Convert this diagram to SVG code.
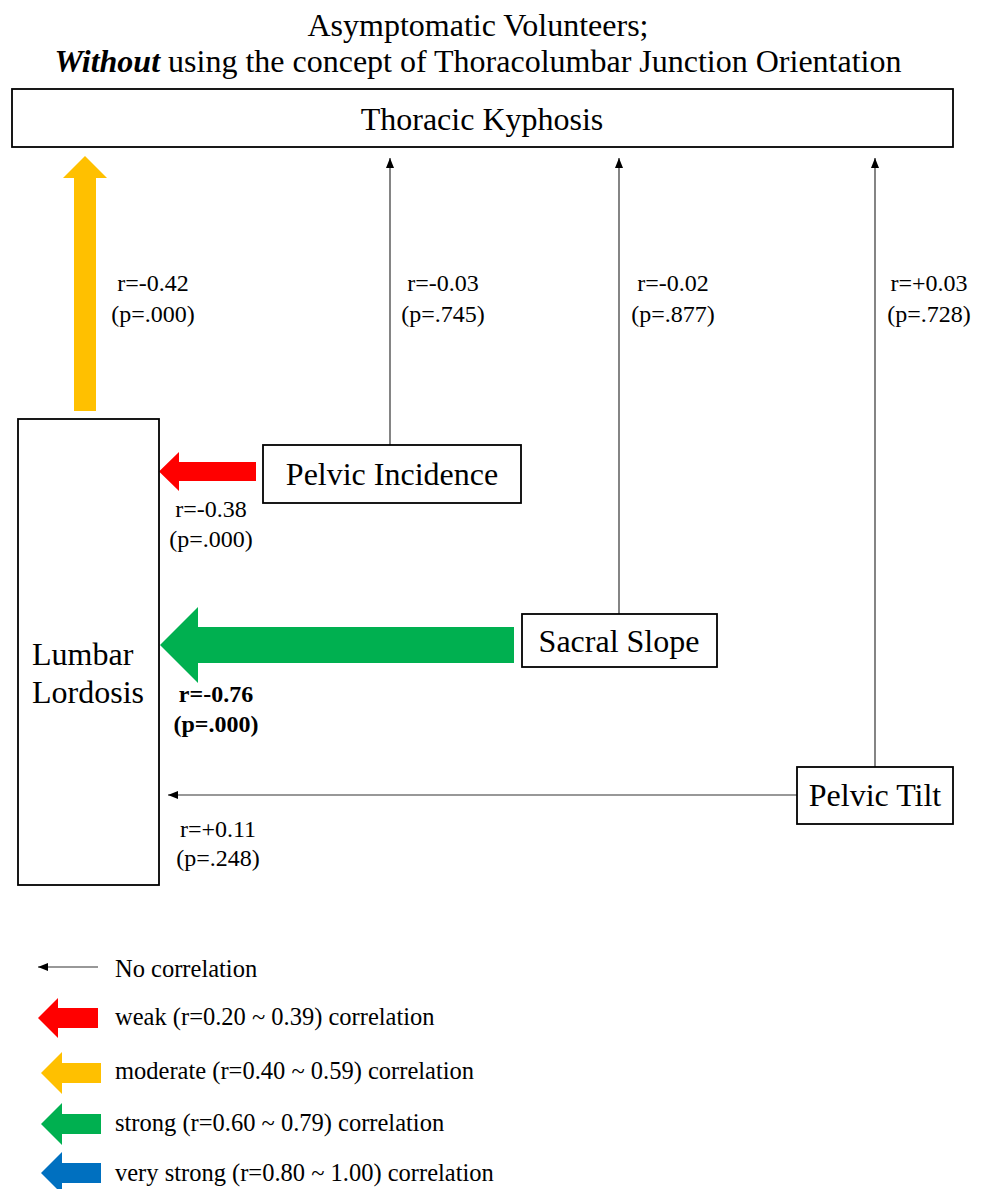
<svg xmlns="http://www.w3.org/2000/svg" width="989" height="1189" viewBox="0 0 989 1189">
<style>
text{font-family:"Liberation Serif","Times New Roman",serif;fill:#000}
.title{font-size:32px}
.node{font-size:32px}
.lbl{font-size:24px;text-anchor:middle}
.bold{font-weight:bold}
.leg{font-size:24.5px}
.box{fill:#fff;stroke:#000;stroke-width:1.8}
.thin{stroke:#333;stroke-width:1.2;fill:none;marker-end:url(#ah)}
</style>
<defs>
<marker id="ah" markerUnits="userSpaceOnUse" markerWidth="10" markerHeight="8" refX="10" refY="4" orient="auto">
<path d="M0,0 L10,4 L0,8 z" fill="#000"/>
</marker>
</defs>
<rect width="989" height="1189" fill="#fff"/>
<g id="title">
<text class="title" x="478" y="36" text-anchor="middle">Asymptomatic Volunteers;</text>
<text class="title" x="478" y="72" text-anchor="middle"><tspan font-weight="bold" font-style="italic">Without</tspan> using the concept of Thoracolumbar Junction Orientation</text>
</g>
<g id="connectors">
<polygon points="74,411 96,411 96,178 107,178 85,156 63,178 74,178" fill="#FFC000"/>
<polygon points="256,462 179,462 179,452 159,471.5 179,491 179,481 256,481" fill="#FF0000"/>
<polygon points="514,627 198,627 198,607 160,645 198,683 198,663 514,663" fill="#00B050"/>
<line class="thin" x1="390" y1="445" x2="390" y2="158"/>
<line class="thin" x1="619" y1="614" x2="619" y2="158"/>
<line class="thin" x1="875" y1="767" x2="875" y2="158"/>
<line class="thin" x1="797" y1="795" x2="168" y2="795"/>
<text class="lbl" x="153" y="291">r=-0.42</text>
<text class="lbl" x="153" y="322">(p=.000)</text>
<text class="lbl" x="443" y="291">r=-0.03</text>
<text class="lbl" x="443" y="322">(p=.745)</text>
<text class="lbl" x="673" y="291">r=-0.02</text>
<text class="lbl" x="673" y="322">(p=.877)</text>
<text class="lbl" x="929" y="291">r=+0.03</text>
<text class="lbl" x="929" y="322">(p=.728)</text>
<text class="lbl" x="211" y="517">r=-0.38</text>
<text class="lbl" x="211" y="547">(p=.000)</text>
<text class="lbl bold" x="216" y="702">r=-0.76</text>
<text class="lbl bold" x="216" y="732">(p=.000)</text>
<text class="lbl" x="218" y="837">r=+0.11</text>
<text class="lbl" x="218" y="866">(p=.248)</text>
</g>
<g id="thoracic-kyphosis">
<rect class="box" x="12" y="89" width="941" height="58" stroke-width="2.2"/>
<text class="node" x="482" y="130" text-anchor="middle">Thoracic Kyphosis</text>
</g>
<g id="lumbar-lordosis">
<rect class="box" x="18" y="419" width="141" height="466"/>
<text class="node" x="32" y="665">Lumbar</text>
<text class="node" x="32" y="703">Lordosis</text>
</g>
<g id="pelvic-incidence">
<rect class="box" x="263" y="445" width="258" height="58"/>
<text class="node" x="392" y="485" text-anchor="middle">Pelvic Incidence</text>
</g>
<g id="sacral-slope">
<rect class="box" x="522" y="614" width="195" height="53"/>
<text class="node" x="619" y="652" text-anchor="middle">Sacral Slope</text>
</g>
<g id="pelvic-tilt">
<rect class="box" x="797" y="767" width="156" height="57"/>
<text class="node" x="875" y="806" text-anchor="middle">Pelvic Tilt</text>
</g>
<g id="legend">
<line class="thin" x1="98" y1="967" x2="38" y2="967"/>
<text class="leg" x="115" y="977">No correlation</text>
<polygon points="98,1008 58,1008 58,998 38,1018 58,1038 58,1028 98,1028" fill="#FF0000"/>
<text class="leg" x="115" y="1025">weak (r=0.20 ~ 0.39) correlation</text>
<polygon points="101,1063 62,1063 62,1052 41,1073 62,1094 62,1083 101,1083" fill="#FFC000"/>
<text class="leg" x="115" y="1079">moderate (r=0.40 ~ 0.59) correlation</text>
<polygon points="101,1114 62,1114 62,1103 41,1124 62,1145 62,1134 101,1134" fill="#00B050"/>
<text class="leg" x="115" y="1131">strong (r=0.60 ~ 0.79) correlation</text>
<polygon points="101,1163 62,1163 62,1152 41,1173 62,1194 62,1183 101,1183" fill="#0070C0"/>
<text class="leg" x="115" y="1181">very strong (r=0.80 ~ 1.00) correlation</text>
</g>
</svg>
